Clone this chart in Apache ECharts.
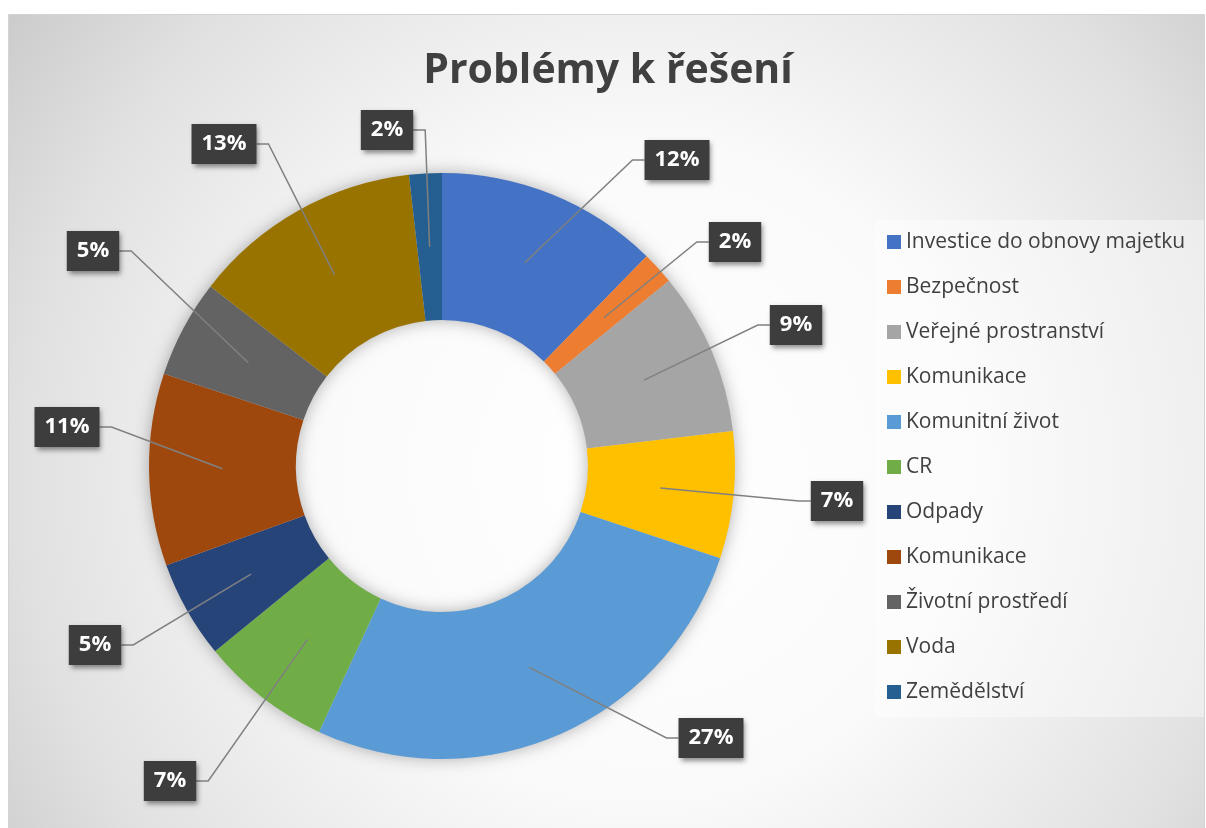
<!DOCTYPE html>
<html>
<head>
<meta charset="utf-8">
<title>Problémy k řešení</title>
<script src="https://cdn.jsdelivr.net/npm/echarts@6/dist/echarts.min.js"></script>
<style>
  html, body { margin: 0; padding: 0; background: #fff; }
  #chart { width: 1206px; height: 828px; }
</style>
</head>
<body>
<div id="chart"></div>
<script>
// data (share of answers, %)
var categories = ['Investice do obnovy majetku', 'Bezpečnost', 'Veřejné prostranství', 'Komunikace',
  'Komunitní život', 'CR', 'Odpady', 'Komunikace\u200b', 'Životní prostředí', 'Voda', 'Zemědělství'];
var shares = [12.3, 1.8, 9.0, 7.0, 26.8, 7.2, 5.4, 10.6, 5.4, 12.7, 1.8];

// office palette
var colors = ['#4472C4', '#ED7D31', '#A5A5A5', '#FFC000', '#5B9BD5', '#70AD47',
  '#264478', '#9E480E', '#636363', '#997300', '#255E91'];

// where each label box sits, relative to the pie centre (px)
var labelOffsets = [[235, -306], [293, -224], [354, -141], [395, 35], [269, 272], [-272, 315],
  [-347, 179], [-375, -39], [-349, -215], [-218, -322], [-55, -336]];

var pieCenter = [442, 466];
var ringRadius = [146, 293];
var FONT = '"Open Sans", "Noto Sans", sans-serif';

var chartDom = document.getElementById('chart');
var myChart = echarts.init(chartDom);
var option;

var pieData = categories.map(function (name, i) {
  return { name: name, value: shares[i], itemStyle: { color: colors[i] } };
});

// fallback: mid angle of a slice from the data (clockwise from 12 o'clock)
function midAngle(idx) {
  var total = 0, before = 0;
  for (var i = 0; i < shares.length; i++) {
    total += shares[i];
    if (i < idx) before += shares[i];
  }
  return (before + shares[idx] / 2) / total * Math.PI * 2;
}

option = {
  animation: false,
  graphic: [
    {
      type: 'rect',
      z: 0,
      shape: { x: 8.5, y: 14.5, width: 1196, height: 830 },
      style: {
        fill: {
          type: 'radial', x: 640, y: 470, r: 820, global: true,
          colorStops: [
            { offset: 0, color: '#ffffff' },
            { offset: 0.4, color: '#fafafa' },
            { offset: 0.75, color: '#e1e1e1' },
            { offset: 1, color: '#c6c6c6' }
          ]
        },
        stroke: '#d4d4d4',
        lineWidth: 1
      },
      silent: true
    },
    {
      // soft shadow under the ring
      type: 'ring',
      z: 0,
      shape: { cx: pieCenter[0], cy: pieCenter[1], r: ringRadius[1], r0: ringRadius[0] },
      style: { fill: '#d0d0d0', shadowBlur: 16, shadowColor: 'rgba(0,0,0,0.3)' },
      silent: true
    },
    {
      // legend panel
      type: 'rect',
      z: 0,
      shape: { x: 875, y: 220, width: 329, height: 497 },
      style: { fill: 'rgba(255,255,255,0.4)' },
      silent: true
    }
  ],
  title: {
    text: 'Problémy k řešení',
    left: 603,
    top: 46,
    textAlign: 'center',
    textStyle: { fontFamily: FONT, fontSize: 41, fontWeight: 'bold', color: '#404040' }
  },
  legend: {
    orient: 'vertical',
    left: 887,
    top: 231,
    padding: 0,
    icon: 'rect',
    itemWidth: 14,
    itemHeight: 14,
    itemGap: 23,
    selectedMode: false,
    data: categories,
    textStyle: { fontFamily: FONT, fontSize: 21, lineHeight: 22, color: '#404040' }
  },
  series: [
    {
      // coloured ring
      type: 'pie',
      z: 2,
      center: pieCenter,
      radius: ringRadius,
      startAngle: 90,
      clockwise: true,
      silent: true,
      data: pieData,
      itemStyle: { borderWidth: 0 },
      label: { show: false },
      labelLine: { show: false }
    },
    {
      // same slices, see-through, only to carry labels and leader lines above the ring
      type: 'pie',
      z: 3,
      center: pieCenter,
      radius: ringRadius,
      startAngle: 90,
      clockwise: true,
      avoidLabelOverlap: false,
      silent: true,
      data: categories.map(function (name, i) { return { name: name, value: shares[i] }; }),
      itemStyle: { color: 'rgba(0,0,0,0)', borderWidth: 0 },
      label: {
        show: true,
        position: 'outside',
        formatter: function (p) { return Math.round(p.percent) + '%'; },
        fontFamily: FONT,
        fontSize: 22,
        fontWeight: 'bold',
        lineHeight: 24,
        color: '#ffffff',
        backgroundColor: '#3d3d3d',
        padding: [8, 10],
        shadowColor: 'rgba(0,0,0,0.45)',
        shadowBlur: 5,
        shadowOffsetX: 2,
        shadowOffsetY: 3
      },
      labelLine: {
        show: true,
        length: 20,
        length2: 20,
        lineStyle: { color: '#808080', width: 1.5 }
      },
      labelLayout: function (p) {
        var off = labelOffsets[p.dataIndex];
        var lx = pieCenter[0] + off[0];
        var ly = pieCenter[1] + off[1];
        var dx, dy;
        if (p.labelLinePoints && p.labelLinePoints.length) {
          dx = p.labelLinePoints[0][0] - pieCenter[0];
          dy = p.labelLinePoints[0][1] - pieCenter[1];
        } else {
          var a = midAngle(p.dataIndex);
          dx = Math.sin(a);
          dy = -Math.cos(a);
        }
        var len = Math.sqrt(dx * dx + dy * dy);
        var rm = (ringRadius[0] + ringRadius[1]) / 2;
        var sx = pieCenter[0] + dx / len * rm;
        var sy = pieCenter[1] + dy / len * rm;
        var hw = p.labelRect.width / 2;
        var ex = sx < lx ? lx - hw : lx + hw;
        var bx = sx < lx ? ex - 12 : ex + 12;
        return {
          x: lx,
          y: ly,
          align: 'center',
          verticalAlign: 'middle',
          labelLinePoints: [[sx, sy], [bx, ly], [ex, ly]]
        };
      }
    }
  ]
};

option && myChart.setOption(option);
</script>
</body>
</html>
